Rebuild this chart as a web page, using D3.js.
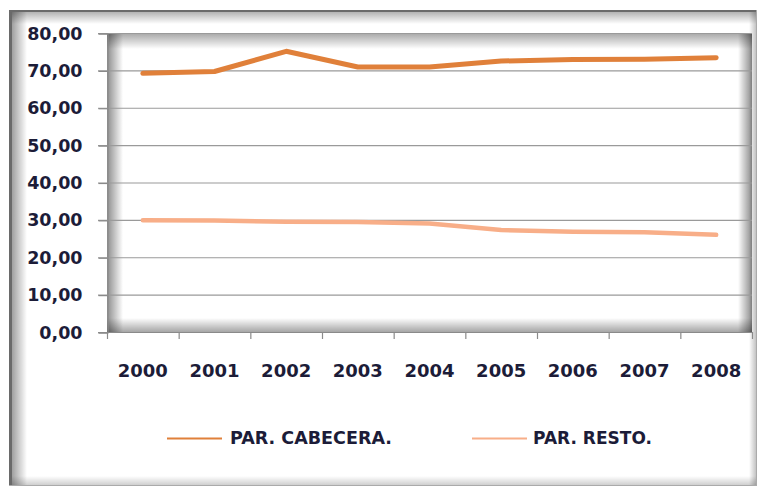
<!DOCTYPE html>
<html>
<head>
<meta charset="utf-8">
<script src="https://cdn.jsdelivr.net/npm/d3@7"></script>
<style>
  html, body { margin: 0; padding: 0; background: #fff; }
  svg { display: block; }
  text { font-family: "DejaVu Sans", sans-serif; font-weight: bold; fill: #1c1c38; }
</style>
</head>
<body>
<svg id="chart" width="759" height="487"></svg>
<script>
const years = ["2000","2001","2002","2003","2004","2005","2006","2007","2008"];
const cabecera = [69.2, 69.7, 75.1, 70.9, 70.9, 72.5, 72.9, 73.0, 73.4];
const resto = [29.9, 29.8, 29.5, 29.4, 29.05, 27.3, 26.8, 26.7, 26.0];
const yTicks = [0, 10, 20, 30, 40, 50, 60, 70, 80];
const seriesNames = ["PAR. CABECERA.", "PAR. RESTO."];
const seriesColors = ["#e0803a", "#f8ae88"];

const svg = d3.select("#chart");
const W = 759, H = 487;
const plot = { left: 107, right: 752, top: 33, bottom: 332 };

const defs = svg.append("defs");
function grad(id, x1, y1, x2, y2, op) {
  const g = defs.append("linearGradient").attr("id", id)
    .attr("x1", x1).attr("y1", y1).attr("x2", x2).attr("y2", y2);
  g.append("stop").attr("offset", "0%").attr("stop-color", "#000").attr("stop-opacity", op);
  g.append("stop").attr("offset", "100%").attr("stop-color", "#000").attr("stop-opacity", 0);
}
grad("gL", 0, 0, 1, 0, 0.45);
grad("gR", 1, 0, 0, 0, 0.45);
grad("gT", 0, 0, 0, 1, 0.35);
grad("gB", 0, 1, 0, 0, 0.35);

// Outer frame
const fr = { x: 9, y: 10, w: 748, h: 476 };
svg.append("rect").attr("x", fr.x).attr("y", fr.y).attr("width", fr.w).attr("height", fr.h)
  .attr("fill", "#fff");
svg.append("rect").attr("x", fr.x).attr("y", fr.y).attr("width", 18).attr("height", fr.h).attr("fill", "url(#gL)");
svg.append("rect").attr("x", fr.x).attr("y", fr.y).attr("width", fr.w).attr("height", 14).attr("fill", "url(#gT)");
svg.append("rect").attr("x", fr.x + fr.w - 8).attr("y", fr.y).attr("width", 8).attr("height", fr.h).attr("fill", "url(#gR)").attr("opacity", 0.6);
svg.append("rect").attr("x", fr.x).attr("y", fr.y + fr.h - 10).attr("width", fr.w).attr("height", 10).attr("fill", "url(#gB)").attr("opacity", 0.6);
svg.append("rect").attr("x", fr.x).attr("y", fr.y).attr("width", 3).attr("height", fr.h).attr("fill", "#6a6a6a");
svg.append("rect").attr("x", fr.x).attr("y", fr.y).attr("width", fr.w).attr("height", 2).attr("fill", "#6a6a6a");
svg.append("rect").attr("x", fr.x + fr.w - 1).attr("y", fr.y).attr("width", 1).attr("height", fr.h).attr("fill", "#aaa");
svg.append("rect").attr("x", fr.x).attr("y", fr.y + fr.h - 1).attr("width", fr.w).attr("height", 1).attr("fill", "#aaa");

const x = d3.scaleBand().domain(years).range([plot.left, plot.right]).padding(0);
const y = d3.scaleLinear().domain([0, 80]).range([plot.bottom, plot.top]);

// Plot area inner shadows
const pw = plot.right - plot.left, ph = plot.bottom - plot.top;
svg.append("rect").attr("x", plot.left).attr("y", plot.top).attr("width", 16).attr("height", ph).attr("fill", "url(#gL)");
svg.append("rect").attr("x", plot.left).attr("y", plot.top).attr("width", pw).attr("height", 16).attr("fill", "url(#gT)");
svg.append("rect").attr("x", plot.right - 14).attr("y", plot.top).attr("width", 14).attr("height", ph).attr("fill", "url(#gR)");
svg.append("rect").attr("x", plot.left).attr("y", plot.bottom - 14).attr("width", pw).attr("height", 14).attr("fill", "url(#gB)");

// Gridlines
svg.append("g").selectAll("line").data(yTicks.filter(d => d > 0)).join("line")
  .attr("x1", plot.left - 9).attr("x2", plot.right)
  .attr("y1", d => y(d) + 0.5).attr("y2", d => y(d) + 0.5)
  .attr("stroke", "#9a9a9a").attr("stroke-width", 1.2);

// Y axis
const yAxis = d3.axisLeft(y).tickValues(yTicks).tickSize(9).tickPadding(16)
  .tickFormat(d => d3.format(".2f")(d).replace(".", ","));
const gy = svg.append("g").attr("transform", `translate(${plot.left + 0.5},0.5)`).call(yAxis);
gy.select(".domain").attr("stroke", "#8a8a8a").attr("stroke-width", 1.2);
gy.selectAll(".tick line").attr("stroke", "#8a8a8a").attr("stroke-width", 1.2);
gy.selectAll(".tick text").attr("font-size", 17.5).attr("font-family", "DejaVu Sans")
  .attr("font-weight", "bold").attr("fill", "#1c1c38");

// X axis baseline
svg.append("line").attr("x1", plot.left - 9).attr("x2", plot.right)
  .attr("y1", plot.bottom + 0.5).attr("y2", plot.bottom + 0.5)
  .attr("stroke", "#8a8a8a").attr("stroke-width", 1.2);
const bounds = years.map(d => x(d)).concat([x(years[years.length - 1]) + x.bandwidth()]);
svg.append("g").selectAll("line").data(bounds).join("line")
  .attr("x1", d => d + 0.5).attr("x2", d => d + 0.5)
  .attr("y1", plot.bottom).attr("y2", plot.bottom + 7)
  .attr("stroke", "#8a8a8a").attr("stroke-width", 1.2);
svg.append("g").selectAll("text").data(years).join("text")
  .attr("x", d => x(d) + x.bandwidth() / 2).attr("y", 377)
  .attr("text-anchor", "middle").attr("font-size", 18).text(d => d);

// Lines
const line = d3.line().x((d, i) => x(years[i]) + x.bandwidth() / 2).y(d => y(d));
[cabecera, resto].forEach((s, i) => {
  svg.append("path").datum(s).attr("d", line).attr("fill", "none")
    .attr("stroke", seriesColors[i]).attr("stroke-width", i === 0 ? 5 : 4.5)
    .attr("stroke-linejoin", "round").attr("stroke-linecap", "round");
});

// Legend
const legendPos = [{ x1: 167, x2: 222, tx: 230, w: 162 }, { x1: 472, x2: 527, tx: 533, w: 119 }];
seriesNames.forEach((n, i) => {
  const p = legendPos[i];
  svg.append("line").attr("x1", p.x1).attr("x2", p.x2).attr("y1", 438.5).attr("y2", 438.5)
    .attr("stroke", seriesColors[i]).attr("stroke-width", 2.2);
  const t = svg.append("text").attr("x", p.tx).attr("y", 444).attr("font-size", 17).text(n);
  const len = t.node().getComputedTextLength();
  t.attr("font-size", 17 * p.w / len);
});
</script>
</body>
</html>
